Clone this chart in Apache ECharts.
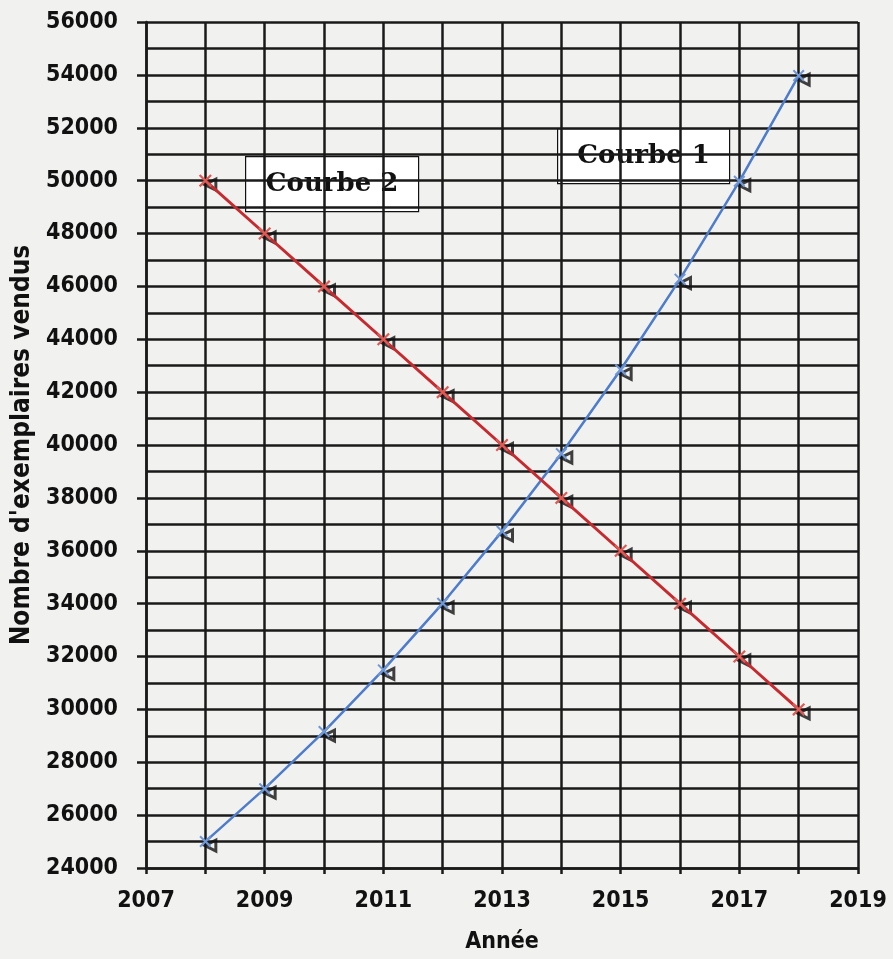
<!DOCTYPE html>
<html>
<head>
<meta charset="utf-8">
<script src="https://cdn.jsdelivr.net/npm/echarts@6/dist/echarts.min.js"></script>
<style>
  html, body { margin: 0; padding: 0; background: #f1f1ef; }
  #container { width: 893px; height: 959px; }
</style>
</head>
<body>
<div id="container"></div>
<script>
// donnees
var annees = [2008, 2009, 2010, 2011, 2012, 2013, 2014, 2015, 2016, 2017, 2018];
var courbe1 = [25000, 27000, 29160, 31493, 34012, 36733, 39672, 42846, 46273, 49975, 53973];
var courbe2 = [50000, 48000, 46000, 44000, 42000, 40000, 38000, 36000, 34000, 32000, 30000];
var xLabels = [2007, 2009, 2011, 2013, 2015, 2017, 2019];

function pairs(vals) {
  return annees.map(function (a, i) { return [a, vals[i]]; });
}

var croix = "path://M0,1.2L1.2,0L10,8.8L8.8,10Z M8.8,0L10,1.2L1.2,10L0,8.8Z";
var labelFont = "'DejaVu Sans Condensed', 'DejaVu Sans', sans-serif";
var boxFont = "bold 26px 'DejaVu Serif', 'Liberation Serif', serif";

var dom = document.getElementById("container");
var myChart = echarts.init(dom, null, { renderer: "canvas" });

function triangles(vals) {
  return {
    type: "scatter",
    data: pairs(vals),
    symbol: "triangle",
    symbolSize: 11,
    symbolRotate: 90,
    symbolOffset: [5, 4],
    itemStyle: { color: "rgba(0,0,0,0)", borderColor: "#111", borderWidth: 3 },
    silent: true,
    z: 3,
  };
}

function boite(texte, x, y, w) {
  return {
    type: "group",
    left: x,
    top: y,
    children: [
      { type: "rect", shape: { width: w, height: 55 }, style: { fill: "#fff", stroke: "#111", lineWidth: 1.2 } },
      {
        type: "text",
        x: w / 2,
        y: 28,
        style: { text: texte, font: boxFont, fill: "#111", align: "center", verticalAlign: "middle" },
      },
    ],
  };
}

var option = {
  backgroundColor: "#f1f1ef",
  animation: false,
  grid: { left: 146, right: 35, top: 22, bottom: 91 },
  xAxis: {
    type: "value",
    min: 2007,
    max: 2019,
    interval: 1,
    name: "Année",
    nameLocation: "middle",
    nameGap: 63,
    nameTextStyle: { fontFamily: labelFont, fontWeight: "bold", fontSize: 23, color: "#111" },
    axisLine: { show: true, lineStyle: { color: "#1a1a1a", width: 2.5 } },
    axisTick: { show: true, length: 6, lineStyle: { color: "#1a1a1a", width: 2.5 } },
    splitLine: { show: true, lineStyle: { color: "#1a1a1a", width: 2.5 } },
    axisLabel: {
      margin: 22,
      fontFamily: labelFont,
      fontWeight: "bold",
      fontSize: 23,
      color: "#111",
      formatter: function (v) {
        return xLabels.indexOf(v) >= 0 ? String(v) : "";
      },
    },
  },
  yAxis: {
    type: "value",
    min: 24000,
    max: 56000,
    interval: 2000,
    name: "Nombre d'exemplaires vendus",
    nameLocation: "middle",
    nameGap: 110,
    nameTextStyle: { fontFamily: labelFont, fontWeight: "bold", fontSize: 26, color: "#111" },
    axisLine: { show: true, lineStyle: { color: "#1a1a1a", width: 2.5 } },
    axisTick: { show: true, length: 9, lineStyle: { color: "#1a1a1a", width: 2.5 } },
    splitLine: { show: true, lineStyle: { color: "#1a1a1a", width: 2.5 } },
    minorTick: { show: false, splitNumber: 2 },
    minorSplitLine: { show: true, lineStyle: { color: "#1a1a1a", width: 2.5 } },
    axisLabel: {
      margin: 28,
      fontFamily: labelFont,
      fontWeight: "bold",
      fontSize: 23,
      color: "#111",
      formatter: function (v) { return String(v); },
    },
  },
  graphic: [
    boite("Courbe 2", 245, 156, 173),
    boite("Courbe 1", 557, 128, 172),
  ],
  series: [
    triangles(courbe1),
    triangles(courbe2),
    {
      name: "Courbe 1",
      type: "line",
      data: pairs(courbe1),
      symbol: croix,
      symbolSize: 12,
      showAllSymbol: true,
      lineStyle: { color: "#4d7ccc", width: 2.5 },
      itemStyle: { color: "#6f98d8" },
      z: 4,
    },
    {
      name: "Courbe 2",
      type: "line",
      data: pairs(courbe2),
      symbol: croix,
      symbolSize: 13,
      showAllSymbol: true,
      lineStyle: { color: "#c62a2f", width: 3 },
      itemStyle: { color: "#e05a55" },
      z: 4,
    },
  ],
};

if (option && typeof option === "object") {
  myChart.setOption(option);
}
window.addEventListener("resize", myChart.resize);
</script>
</body>
</html>
